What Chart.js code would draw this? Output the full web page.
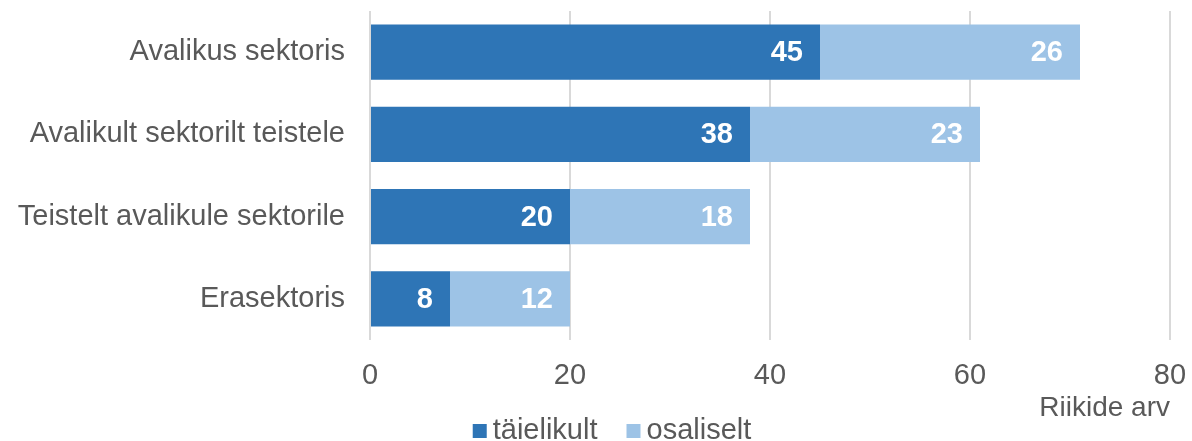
<!DOCTYPE html>
<html lang="et">
<head>
    <meta charset="UTF-8">
    <title>Riikide arv</title>
    <script src="https://cdn.jsdelivr.net/npm/chart.js"></script>
    <style>
        body {
            margin: 0;
            overflow: hidden;
            background-color: #ffffff;
            font-family: "Liberation Sans", Arial, sans-serif;
        }
        #wrap {
            width: 1192px;
            height: 441px;
        }
    </style>
</head>
<body>
    <div id="wrap"><canvas id="barChart"></canvas></div>
    <script>
        const categories = ['Avalikus sektoris', 'Avalikult sektorilt teistele', 'Teistelt avalikule sektorile', 'Erasektoris'];
        const taielikult = [45, 38, 20, 8];
        const osaliselt = [26, 23, 18, 12];
        const xTicks = [0, 20, 40, 60, 80];

        const textColor = '#595959';
        const fontName = '"Liberation Sans", Arial, sans-serif';

        // white numbers inside the end of each segment
        const valueLabels = {
            id: 'valueLabels',
            afterDatasetsDraw(chart) {
                const ctx = chart.ctx;
                ctx.save();
                ctx.font = 'bold 29px ' + fontName;
                ctx.fillStyle = '#ffffff';
                ctx.textAlign = 'right';
                ctx.textBaseline = 'middle';
                chart.data.datasets.forEach((ds, i) => {
                    chart.getDatasetMeta(i).data.forEach((bar, j) => {
                        ctx.fillText(ds.data[j], bar.x - 17, bar.y + 1);
                    });
                });
                ctx.restore();
            }
        };

        // legend under the axis title (built-in one can't sit this low)
        const bottomLegend = {
            id: 'bottomLegend',
            afterDraw(chart) {
                const ctx = chart.ctx;
                const y = 430, box = 14, gapText = 6, gapItem = 29;
                ctx.save();
                ctx.font = '29px ' + fontName;
                ctx.textBaseline = 'middle';
                ctx.textAlign = 'left';
                const items = chart.data.datasets.map(ds => ({
                    text: ds.label,
                    color: ds.backgroundColor,
                    w: box + gapText + ctx.measureText(ds.label).width
                }));
                const total = items.reduce((s, it) => s + it.w, 0) + gapItem * (items.length - 1);
                let x = 612 - total / 2;
                items.forEach(it => {
                    ctx.fillStyle = it.color;
                    ctx.fillRect(x, y - box / 2 + 1, box, box);
                    ctx.fillStyle = textColor;
                    ctx.fillText(it.text, x + box + gapText, y + 1);
                    x += it.w + gapItem;
                });
                ctx.restore();
            }
        };

        new Chart(document.getElementById('barChart'), {
            type: 'bar',
            data: {
                labels: categories,
                datasets: [{
                    label: 'täielikult',
                    data: taielikult,
                    backgroundColor: '#2E75B6'
                }, {
                    label: 'osaliselt',
                    data: osaliselt,
                    backgroundColor: '#9DC3E6'
                }]
            },
            options: {
                indexAxis: 'y',
                responsive: true,
                maintainAspectRatio: false,
                animation: false,
                categoryPercentage: 1,
                barPercentage: 0.669,
                layout: {
                    padding: { left: 0, right: 22, top: 11, bottom: 0 }
                },
                scales: {
                    x: {
                        stacked: true,
                        min: 0,
                        max: 80,
                        afterBuildTicks: axis => {
                            axis.ticks = xTicks.map(v => ({ value: v }));
                        },
                        afterFit: axis => {
                            axis.height = 101;
                            axis.paddingLeft = 0;
                            axis.paddingRight = 0;
                        },
                        grid: { color: '#d9d9d9', lineWidth: 2, drawTicks: false },
                        border: { display: false },
                        ticks: {
                            color: textColor,
                            font: { size: 29, family: fontName },
                            padding: 19
                        },
                        title: {
                            display: true,
                            text: 'Riikide arv',
                            align: 'end',
                            color: textColor,
                            font: { size: 28, family: fontName },
                            padding: { top: 0, bottom: 16 }
                        }
                    },
                    y: {
                        stacked: true,
                        grid: { display: false, drawTicks: false },
                        border: { display: false },
                        ticks: {
                            color: textColor,
                            font: { size: 29, family: fontName },
                            padding: 25
                        },
                        afterFit: axis => {
                            axis.width = 370;
                            axis.paddingTop = 0;
                            axis.paddingBottom = 0;
                        }
                    }
                },
                plugins: {
                    legend: { display: false },
                    tooltip: { enabled: false }
                }
            },
            plugins: [valueLabels, bottomLegend]
        });
    </script>
</body>
</html>
